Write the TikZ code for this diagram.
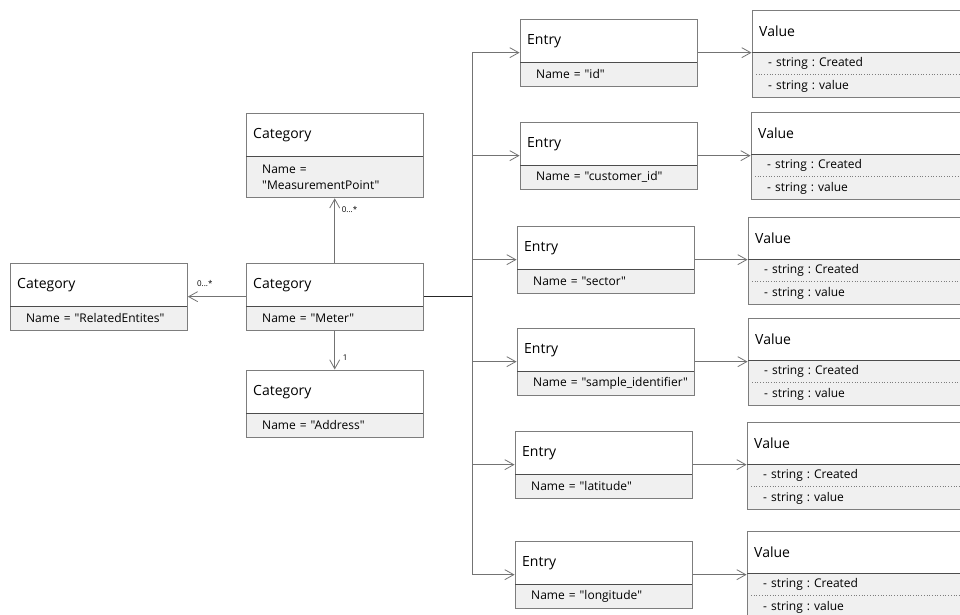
\documentclass[tikz,border=0pt]{standalone}
\usepackage{fontspec}
\setmainfont{Open Sans}[Ligatures=TeXOff]
\usetikzlibrary{positioning,fit,arrows.meta}
\definecolor{boxgray}{RGB}{125,125,125}
\definecolor{attrgray}{RGB}{240,240,240}
\definecolor{linegray}{RGB}{115,115,115}
\newcommand{\dq}{\symbol{34}}

\begin{document}
\frenchspacing
\begin{tikzpicture}[
    x=1pt, y=-1pt,
    head/.style={anchor=north west, fill=white, minimum height=43pt, inner xsep=7pt, inner ysep=0pt, text width=163pt, align=left, font=\fontsize{14}{16}\selectfont},
    attr/.style={fill=attrgray, minimum height=23.5pt, inner xsep=4pt, inner ysep=0pt, text width=169pt, align=left, font=\fontsize{12}{16}\selectfont, execute at begin node={\hspace*{12pt}}},
    vhead/.style={head, minimum height=42pt, text width=226pt},
    vattr/.style={attr, minimum height=22pt, text width=232pt},
    box/.style={draw=boxgray, line width=0.9pt, inner sep=0pt},
    divider/.style={draw=black!70, line width=0.9pt},
    dotline/.style={draw=boxgray, line width=0.7pt, dotted},
    arrow/.style={draw=linegray, line width=0.8pt, -{Straight Barb[length=9pt, width=10pt]}},
    line/.style={draw=linegray, line width=0.8pt},
    bus/.style={draw=black!85, line width=1.4pt},
    mult/.style={font=\fontsize{8}{9}\selectfont, inner sep=1pt}
]
\useasboundingbox (0,0) rectangle (960,614);

% Categories
\node[head] (rel-h) at (10,263) {Category};
\node[attr, below=0pt of rel-h] (rel-a) {Name = \dq RelatedEntites\dq};
\node[box, fit=(rel-h)(rel-a)] (rel) {};
\draw[divider] (rel-h.south west) -- (rel-h.south east);

\node[head] (meter-h) at (246,263) {Category};
\node[attr, below=0pt of meter-h] (meter-a) {Name = \dq Meter\dq};
\node[box, fit=(meter-h)(meter-a)] (meter) {};
\draw[divider] (meter-h.south west) -- (meter-h.south east);

\node[head] (mp-h) at (246,113) {Category};
\node[attr, minimum height=41pt, below=0pt of mp-h] (mp-a) {Name =\\\hspace*{12pt}\dq MeasurementPoint\dq};
\node[box, fit=(mp-h)(mp-a)] (mp) {};
\draw[divider] (mp-h.south west) -- (mp-h.south east);

\node[head] (addr-h) at (246,370) {Category};
\node[attr, below=0pt of addr-h] (addr-a) {Name = \dq Address\dq};
\node[box, fit=(addr-h)(addr-a)] (addr) {};
\draw[divider] (addr-h.south west) -- (addr-h.south east);

% Entries and values
\foreach \i/\ex/\ey/\vx/\vy/\nm in {1/520/19/752/10/id, 2/520/122/751/112/customer\_id,
    3/517/226/748/217/sector, 4/517/328/748/318/sample\_identifier,
    5/515/431/747/422/latitude, 6/515/541/747/531/longitude}{
  \node[head] (e\i-h) at (\ex,\ey) {Entry};
  \node[attr, below=0pt of e\i-h] (e\i-a) {Name = \dq\nm\dq};
  \node[box, fit=(e\i-h)(e\i-a)] (e\i) {};
  \draw[divider] (e\i-h.south west) -- (e\i-h.south east);

  \node[vhead] (v\i-h) at (\vx,\vy) {Value};
  \node[vattr, below=0pt of v\i-h] (v\i-a) {- string : Created};
  \node[vattr, below=0pt of v\i-a] (v\i-b) {- string : value};
  \node[box, fit=(v\i-h)(v\i-b)] (v\i) {};
  \draw[divider] (v\i-h.south west) -- (v\i-h.south east);
  \draw[dotline] ([xshift=4pt]v\i-a.south west) -- (v\i-a.south east);
}

% Associations
\draw[arrow] (meter) -- (rel);
\draw[arrow] (meter) -- (mp);
\draw[arrow] (meter) -- (addr);
\node[mult, above right=9pt and 8pt of rel.east] (m-rel) {0...*};
\node[mult, below right=7pt and 6pt of mp.south] (m-mp) {0...*};
\node[mult, above right=8pt and 7pt of addr.north] (m-addr) {1};

% Bus to entries
\coordinate (trunk) at (472,0);
\draw[bus] (meter.east) -- (meter.east -| trunk);
\draw[line] (trunk |- e1) -- (trunk |- e6);
\foreach \i in {1,...,6}{
  \draw[arrow] (trunk |- e\i) -- (e\i);
  \draw[arrow] (e\i) -- (e\i -| v\i.west);
}

\end{tikzpicture}
\end{document}
